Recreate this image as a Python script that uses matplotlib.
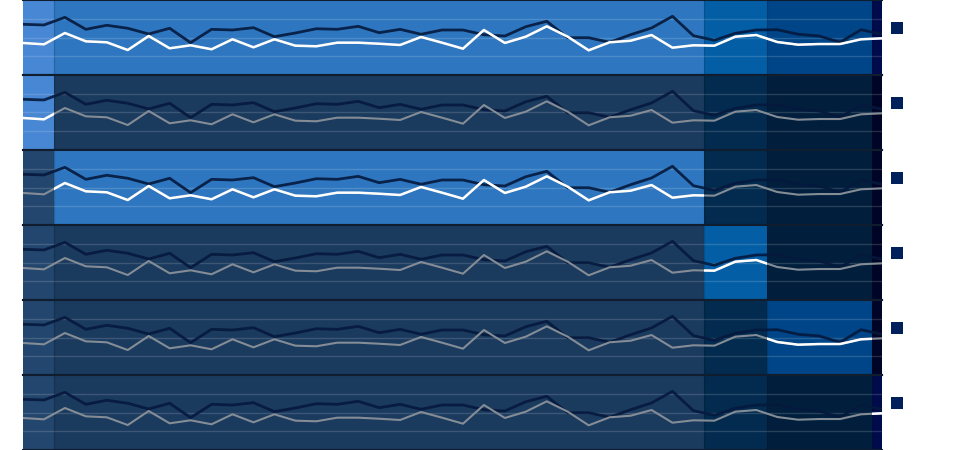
import numpy as np
import matplotlib
matplotlib.use("Agg")
from matplotlib import pyplot as plt
from matplotlib.patches import Rectangle

# two series, 42 points each (0..100 scale)
dark_series = [67.6, 66.7, 76.9, 60.9, 66.3, 62.3, 54.7, 62.3, 43.1, 60.9,
               60.0, 63.1, 51.1, 56.0, 61.7, 60.9, 64.9, 56.4, 60.9, 54.3,
               60.0, 60.0, 53.7, 52.0, 64.4, 71.6, 49.7, 49.7, 43.6, 53.7,
               62.7, 78.3, 52.4, 46.3, 55.6, 60.0, 60.4, 54.3, 52.0, 43.6,
               60.4, 54.3]
light_series = [42.7, 40.9, 56.0, 44.9, 43.6, 33.3, 52.0, 35.6, 39.6, 34.3,
                47.6, 36.9, 47.6, 39.1, 38.3, 43.1, 43.1, 41.7, 40.0, 50.7,
                43.1, 35.1, 60.0, 42.7, 51.1, 64.9, 51.1, 32.9, 43.6, 45.7,
                53.3, 36.4, 39.6, 39.1, 51.1, 53.3, 44.0, 40.4, 41.3, 41.3,
                47.6, 48.9]

# how many points fall in each column band
band_sizes = [2, 31, 3, 5, 1]
# which band is highlighted in each row (None = all of them)
row_highlight = [None, 0, 1, 2, 3, 4]

bright_colors = ['#4787d3', '#2e77c0', '#045ea5', '#004587', '#000b4c']
dim_colors = ['#23466e', '#1a3a5e', '#022b4f', '#011f3d', '#000527']
legend_color = '#00205b'

x = np.arange(len(dark_series))
n = len(x)
edges = np.concatenate([[0], np.cumsum(band_sizes) - 0.5])
edges[-1] = n - 1

fig = plt.figure(figsize=(9.66, 4.5), dpi=100)
L, R = 23 / 966, 882 / 966
rows = len(row_highlight)
h = 1.0 / rows

for r, hl in enumerate(row_highlight):
    ax = fig.add_axes([L, 1 - (r + 1) * h, R - L, h])
    ax.set_xlim(0, n - 1)
    ax.set_ylim(0, 100)

    hl_patches = []
    for b in range(len(band_sizes)):
        on = hl is None or hl == b
        col = bright_colors[b] if on else dim_colors[b]
        rect = Rectangle((edges[b], 0), edges[b + 1] - edges[b], 100,
                         facecolor=col, edgecolor='none', zorder=0)
        ax.add_patch(rect)
        if on:
            hl_patches.append(rect)
        if b > 0:
            ax.axvline(edges[b], color='black', alpha=0.15, lw=1, zorder=1)

    for gy in (25, 50, 75):
        ax.axhline(gy, color='white', alpha=0.15, lw=1, zorder=1)

    ax.plot(x, dark_series, color='#05193d', lw=2, alpha=0.9, zorder=3)
    ax.plot(x, light_series, color='#848c96', lw=1.5, zorder=4)
    for p in hl_patches:
        ln, = ax.plot(x, light_series, color='white', lw=1.8, zorder=5)
        ln.set_clip_path(p)

    ax.set_xticks([])
    ax.set_yticks([])
    for s in ('left', 'right'):
        ax.spines[s].set_visible(False)
    for s in ('top', 'bottom'):
        ax.spines[s].set_color('#0f1d2e')
        ax.spines[s].set_linewidth(1.5)

    # legend marker next to each row
    sq_y = 1 - (r * 75 + 34) / 450
    fig.add_artist(Rectangle((891 / 966, sq_y), 12 / 966, 12 / 450,
                             transform=fig.transFigure,
                             facecolor=legend_color, edgecolor='none'))

plt.savefig('out.png', dpi=100)
